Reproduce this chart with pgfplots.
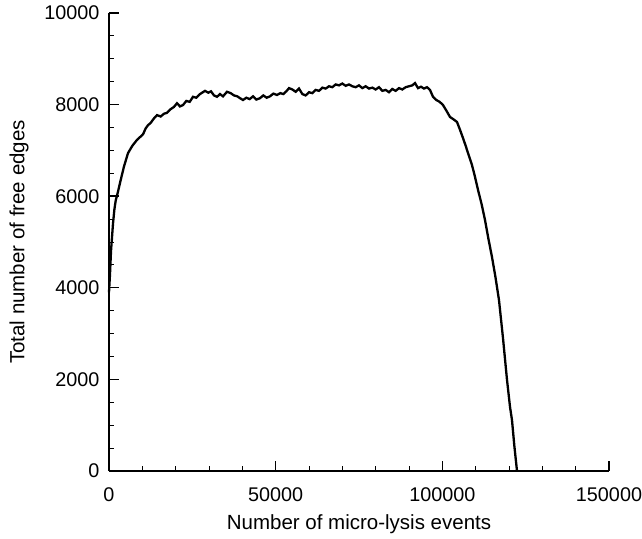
\documentclass[border=0pt]{standalone}
\usepackage{pgfplots}
\pgfplotsset{compat=1.18}
\usepackage{fontspec}
\setmainfont{Liberation Sans}
\begin{document}
\begin{tikzpicture}
\begin{axis}[
  name=ax,
  scale only axis,
  width=500pt, height=458pt,
  xmin=0, xmax=150000, ymin=0, ymax=10000,
  axis lines=left,
  axis line style={-, line width=2pt},
  xtick={0,50000,100000,150000},
  xticklabels={0,50000,100000,150000},
  ytick={0,2000,4000,6000,8000,10000},
  yticklabels={0,2000,4000,6000,8000,10000},
  minor x tick num=4,
  minor y tick num=3,
  xtick align=inside, ytick align=inside,
  major tick length=10pt,
  minor tick length=5pt,
  every tick/.style={black, line width=1.4pt},
  minor tick style={line width=0.8pt},
  scaled ticks=false,
  ticklabel style={font=\fontsize{19.8}{24}\selectfont},
  label style={font=\fontsize{20.5}{24}\selectfont},
  xlabel={Number of micro-lysis events},
  ylabel={Total number of free edges},
  xticklabel style={yshift=-13pt},
  yticklabel style={xshift=-6pt},
  xlabel style={yshift=-6pt},
  ylabel style={yshift=9pt},
  clip=false,
]
\addplot[black, line width=2.3pt] coordinates {
(0,3900) (300,4300) (600,4800) (900,5100) (1200,5400) (1600,5700) (2000,5900)
(2700,6100) (3500,6350) (4500,6650) (5700,6940) (7000,7100) (8400,7230) (9300,7290)
(10200,7350) (11000,7480) (11700,7550) (12500,7600) (13500,7700) (14400,7770)
(15500,7740) (16500,7800) (17400,7820) (18500,7900) (19500,7950) (20400,8030)
(21300,7960) (22200,7990) (23200,8080) (24200,8060) (25200,8170) (26200,8150)
(27300,8230) (28800,8300) (29800,8260) (30600,8290) (31500,8200) (32400,8170)
(33300,8230) (34200,8180) (35400,8280) (36500,8250) (37500,8200) (38500,8180)
(39300,8140) (40200,8100) (41200,8150) (42200,8120) (43200,8180) (44200,8110)
(45300,8140) (46300,8200) (47300,8150) (48300,8180) (49300,8240) (50400,8210)
(51400,8250) (52300,8230) (53200,8290) (54000,8360) (55000,8330) (56000,8280)
(57000,8350) (58000,8230) (59000,8200) (60000,8270) (61000,8250) (62000,8320)
(63000,8300) (64000,8370) (65000,8350) (66000,8400) (67000,8380) (68000,8440)
(69000,8420) (70000,8460) (71000,8410) (72000,8440) (73000,8400) (74000,8380)
(75000,8420) (76000,8360) (77000,8400) (78000,8350) (79000,8370) (80000,8330)
(81000,8380) (82000,8300) (83000,8320) (84000,8270) (85000,8340) (86000,8300)
(87000,8360) (88000,8330) (89000,8380) (90000,8400) (91000,8420) (91800,8470)
(92700,8360) (93600,8390) (94500,8350) (95400,8380) (96300,8320) (97200,8170)
(98200,8100) (99200,8060) (100200,7990) (101200,7870) (102300,7730) (103300,7680)
(104400,7620) (105300,7450) (106200,7270) (107000,7100) (107800,6920) (108900,6680)
(109800,6420) (110700,6140) (111800,5820) (112800,5480) (113800,5080) (114900,4670)
(115900,4250) (117000,3730) (118200,2900) (119400,1990) (120300,1400) (120900,1110)
(121600,550) (122400,0)
};
\end{axis}
\pgfresetboundingbox
\path[use as bounding box] ([xshift=-109pt,yshift=-68pt]ax.south west) rectangle ([xshift=33pt,yshift=13pt]ax.north east);
\end{tikzpicture}
\end{document}
